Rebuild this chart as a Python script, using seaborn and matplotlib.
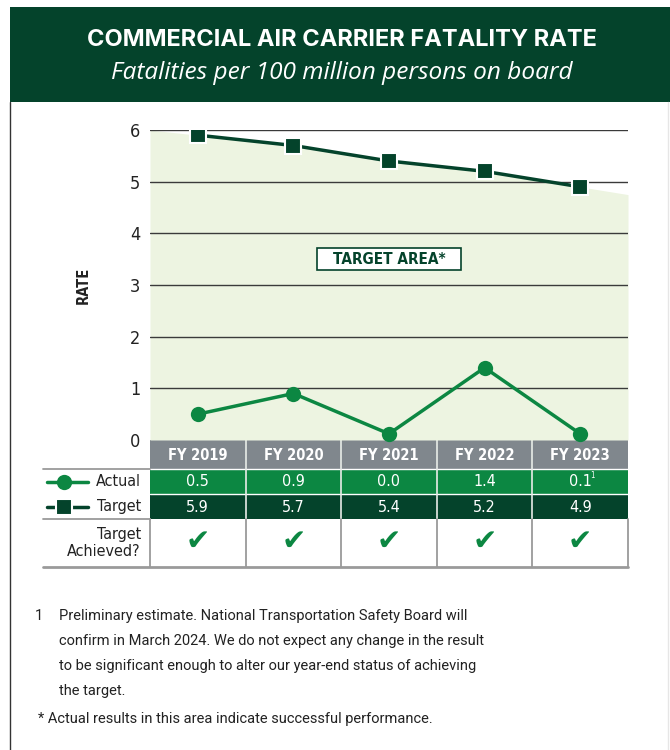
import numpy as np
import pandas as pd
import matplotlib
matplotlib.use("Agg")
import matplotlib.pyplot as plt
import seaborn as sns
from matplotlib.patches import Rectangle

# ---------------- data ----------------
years = ["FY 2019", "FY 2020", "FY 2021", "FY 2022", "FY 2023"]
actual = [0.5, 0.9, 0.0, 1.4, 0.1]
target = [5.9, 5.7, 5.4, 5.2, 4.9]
actual_labels = ["0.5", "0.9", "0.0", "1.4", "0.1"]
target_labels = ["5.9", "5.7", "5.4", "5.2", "4.9"]
achieved = [True, True, True, True, True]
yticks = [0, 1, 2, 3, 4, 5, 6]

title = "COMMERCIAL AIR CARRIER FATALITY RATE"
subtitle = "Fatalities per 100 million persons on board"
footnote1 = ["Preliminary estimate. National Transportation Safety Board will",
             "confirm in March 2024. We do not expect any change in the result",
             "to be significant enough to alter our year-end status of achieving",
             "the target."]
footnote2 = "* Actual results in this area indicate successful performance."

# ---------------- style ----------------
sns.set_theme(style="white")
plt.rcParams["font.family"] = ["Roboto", "DejaVu Sans"]
NARROW = dict(family=["DejaVu Sans"], fontstretch="condensed")

DARK = "#04432b"
GREEN = "#0c8742"
GRAY = "#80878d"
FILL = "#edf4e1"
TXT = "#222222"

W, H = 670, 750
fig = plt.figure(figsize=(6.7, 7.5), dpi=100)
fig.patch.set_facecolor("white")


def fx(px):
    return px / W


def fy(py):
    return 1 - py / H


PL, PR, PT, PB = 150, 628, 130, 440

# overlay axes in pixel coordinates
ov = fig.add_axes([0, 0, 1, 1], zorder=0)
ov.set_xlim(0, W)
ov.set_ylim(H, 0)
ov.axis("off")

# main plot axes
ax = fig.add_axes([fx(PL), fy(PB), (PR - PL) / W, (PB - PT) / H], zorder=2)
ax.patch.set_alpha(0)

n = len(years)
xs = np.arange(n)
df = pd.DataFrame({"x": xs, "actual": actual, "target": target})

# target area fill (target line extended half a category each side)
t = np.array(target, dtype=float)
xe = np.concatenate([[-0.5], xs, [n - 0.5]])
te = np.concatenate([[t[0] - (t[1] - t[0]) / 2], t, [t[-1] + (t[-1] - t[-2]) / 2]])
ax.fill_between(xe, 0, te, color=FILL, lw=0, zorder=0)

for v in yticks[1:]:
    ax.axhline(v, color="#3a3a3a", lw=1, zorder=1)

sns.lineplot(data=df, x="x", y="target", ax=ax, color=DARK, lw=2.5,
             marker="s", markersize=11, markeredgecolor="white",
             markeredgewidth=1.5, zorder=4)
df["actual_plot"] = np.maximum(df["actual"], 0.12)
sns.lineplot(data=df, x="x", y="actual_plot", ax=ax, color=GREEN, lw=2.5,
             marker="o", markersize=11, markeredgewidth=0, zorder=4,
             clip_on=False)

ax.set_xlim(-0.5, n - 0.5)
ax.set_ylim(0, 6)
ax.set_yticks(yticks)
ax.set_yticklabels([str(v) for v in yticks], fontsize=13, color=TXT, **NARROW)
ax.set_xticks([])
ax.tick_params(axis="y", length=0, pad=7)
ax.set_xlabel("")
ax.set_ylabel("")
for s in ax.spines.values():
    s.set_visible(False)

# target area box
ax.add_patch(Rectangle((2 - 0.75, 3.5 - 0.21), 1.5, 0.42, fc="white",
                       ec=DARK, lw=1.2, zorder=5))
ax.text(2, 3.5, "TARGET AREA*", ha="center", va="center",
        fontweight="bold", fontsize=11, color=DARK, zorder=6, **NARROW)

# ---------------- header ----------------
ov.add_patch(Rectangle((10, 7), W - 10, 95, fc=DARK, ec="none"))
ov.text(342, 46, title, ha="center", va="baseline", color="white",
        fontsize=17, fontweight="bold", family=["Inter", "DejaVu Sans"])
ov.text(342, 79, subtitle, ha="center", va="baseline", color="white",
        fontsize=17.6, fontstyle="italic", family=["Open Sans", "DejaVu Sans"])

# frame lines
ov.plot([10, 10], [102, H], color="#333333", lw=1)
ov.plot([668, 668], [102, H], color="#e6e6e6", lw=1)

ov.text(83, 285, "RATE", rotation=90, ha="center", va="center",
        fontweight="bold", fontsize=10.5, color=TXT, **NARROW)

# ---------------- table ----------------
colx = [PL + (PR - PL) * i / n for i in range(n + 1)]

ov.add_patch(Rectangle((PL, 440), PR - PL, 29, fc=GRAY, ec="none"))
ov.add_patch(Rectangle((PL, 469), PR - PL, 25, fc=GREEN, ec="none"))
ov.add_patch(Rectangle((PL, 494), PR - PL, 25, fc=DARK, ec="none"))
ov.plot([PL, PR], [469, 469], color="white", lw=1)
ov.plot([PL, PR], [494, 494], color="white", lw=1)
for cx in colx[1:-1]:
    ov.plot([cx, cx], [440, 519], color="#e8ece8", lw=1.2)
for cx in colx:
    ov.plot([cx, cx], [519, 567], color="#9a9a9a", lw=1.3)
ov.plot([43, PL], [469, 469], color="#9a9a9a", lw=1.3)
ov.plot([43, PL], [519, 519], color="#9a9a9a", lw=1.3)
ov.plot([43, PR], [567, 567], color="#9a9a9a", lw=2)

for i in range(n):
    cx = (colx[i] + colx[i + 1]) / 2
    ov.text(cx, 455, years[i], ha="center", va="center", color="white",
            fontweight="bold", fontsize=10.5, **NARROW)
    ov.text(cx, 482, actual_labels[i], ha="center", va="center",
            color="white", fontsize=11.5, **NARROW)
    ov.text(cx, 507, target_labels[i], ha="center", va="center",
            color="white", fontsize=11.5, **NARROW)
    if achieved[i]:
        ov.text(cx, 542, "\u2714", ha="center", va="center", color=GREEN,
                family=["DejaVu Sans"], fontsize=21)
# footnote marker on last actual value
ov.text((colx[-2] + colx[-1]) / 2 + 10, 476, "1", ha="left", va="center",
        color="white", fontsize=5.5, **NARROW)

# legend part of the table
ov.plot([47, 88], [482, 482], color=GREEN, lw=2.5)
ov.plot([64], [482], marker="o", color=GREEN, markersize=11, markeredgewidth=0)
ov.plot([47, 88], [507, 507], color=DARK, lw=2.5)
ov.plot([64], [507], marker="s", color=DARK, markersize=11,
        markeredgecolor="white", markeredgewidth=1.5)
ov.text(141, 482, "Actual", ha="right", va="center",
        fontsize=11.5, color=TXT, **NARROW)
ov.text(141, 507, "Target", ha="right", va="center",
        fontsize=11.5, color=TXT, **NARROW)
ov.text(141, 543, "Target\nAchieved?", ha="right", va="center",
        fontsize=11.5, color=TXT, linespacing=1.15, **NARROW)

# ---------------- footnotes ----------------
FN = 10.5
ov.text(35, 620, "1", ha="left", va="baseline", fontsize=FN, color=TXT)
for k, line in enumerate(footnote1):
    ov.text(59, 620 + 25 * k, line, ha="left", va="baseline",
            fontsize=FN, color=TXT)
ov.text(38, 723, footnote2, ha="left", va="baseline", fontsize=FN, color=TXT)

fig.savefig("out.png", dpi=100, facecolor="white")
